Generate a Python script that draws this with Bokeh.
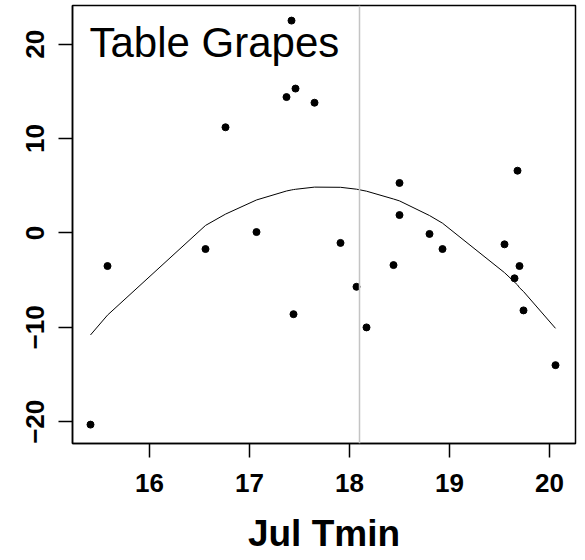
from bokeh.plotting import figure
from bokeh.models import Span, Label, FixedTicker, Range1d
from bokeh.embed import file_html
from bokeh.resources import INLINE

# Data
tmin = [15.41, 15.58, 16.56, 16.76, 17.07, 17.37, 17.42, 17.46, 17.44, 17.65,
        17.91, 18.07, 18.17, 18.44, 18.50, 18.50, 18.80, 18.93, 19.55, 19.68,
        19.70, 19.65, 19.74, 20.06]
yield_dev = [-20.3, -3.5, -1.7, 11.2, 0.1, 14.4, 22.5, 15.3, -8.6, 13.8,
             -1.05, -5.7, -10.0, -3.4, 5.3, 1.9, -0.1, -1.7, -1.2, 6.6,
             -3.5, -4.8, -8.2, -14.0]

fit_x = [15.41, 15.58, 16.56, 16.76, 17.07, 17.37, 17.42, 17.44, 17.46, 17.65,
         17.91, 18.07, 18.17, 18.44, 18.50, 18.80, 18.93, 19.55, 19.65, 19.68,
         19.70, 19.74, 20.06]
fit_y = [-10.8, -8.7, 0.8, 2.0, 3.5, 4.45, 4.56, 4.6, 4.63, 4.86,
         4.84, 4.64, 4.43, 3.6, 3.4, 1.85, 1.04, -4.2, -5.2, -5.5,
         -5.8, -6.2, -10.1]

threshold = 18.1
x_ticks = [16, 17, 18, 19, 20]
y_ticks = [-20, -10, 0, 10, 20]
title_text = "Table Grapes"
x_title = "Jul Tmin"

p = figure(width=579, height=556, output_backend="svg", toolbar_location=None,
           x_range=Range1d(15.23, 20.26), y_range=Range1d(-22.3, 24.1),
           min_border_left=72, min_border_right=4, min_border_top=5,
           min_border_bottom=110)

p.grid.visible = False
p.outline_line_color = "black"
p.outline_line_width = 1.5

p.add_layout(Span(location=threshold, dimension="height",
                  line_color="#c4c4c4", line_width=1.5))

p.line(fit_x, fit_y, line_color="black", line_width=1)
p.scatter(tmin, yield_dev, size=7, color="black")

p.add_layout(Label(x=15.40, y=20.2, text=title_text, text_font="Liberation Sans",
                   text_font_size="42px", text_color="black",
                   text_baseline="alphabetic"))

for ax in (p.xaxis[0], p.yaxis[0]):
    ax.major_tick_out = 14
    ax.major_tick_in = 0
    ax.minor_tick_line_color = None
    ax.major_tick_line_width = 1.5
    ax.major_tick_line_color = "black"
    ax.axis_line_color = "black"
    ax.axis_line_width = 1.5
    ax.major_label_text_font = "Liberation Sans"
    ax.major_label_text_font_style = "bold"
    ax.major_label_text_font_size = "26px"
    ax.major_label_text_color = "black"

p.xaxis.ticker = FixedTicker(ticks=x_ticks)
p.yaxis.ticker = FixedTicker(ticks=y_ticks)
p.xaxis.major_label_standoff = 16
p.yaxis.major_label_standoff = 14
p.yaxis.major_label_orientation = "parallel"

p.xaxis.axis_label = x_title
p.xaxis.axis_label_text_font = "Liberation Sans"
p.xaxis.axis_label_text_font_style = "bold"
p.xaxis.axis_label_text_font_size = "37px"
p.xaxis.axis_label_text_color = "black"
p.xaxis.axis_label_standoff = 18

open("out.html", "w").write(file_html(p, INLINE))
